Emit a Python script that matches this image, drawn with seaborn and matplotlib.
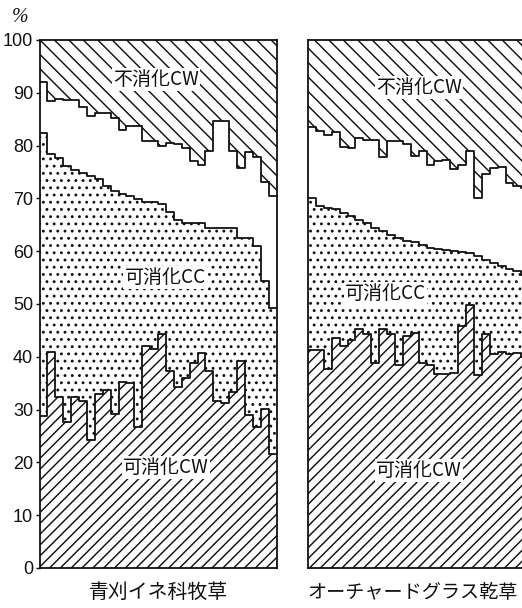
import matplotlib
matplotlib.use("Agg")
import matplotlib.pyplot as plt
import seaborn as sns

# two forages, one bar per sample (sorted), values in % of dry matter
panel_names = ["青刈イネ科牧草", "オーチャードグラス乾草"]
layer_names = ["不消化CW", "可消化CC", "可消化CW"]
y_ticks = [0, 10, 20, 30, 40, 50, 60, 70, 80, 90, 100]

# upper edge of digestible cell wall (bottom layer)
grass_dcw = [28.8, 41.0, 32.3, 27.7, 32.3, 31.6, 24.3, 33.0, 33.8, 29.2,
             35.2, 35.0, 26.7, 42.1, 41.5, 44.3, 37.3, 34.2, 36.0, 38.9,
             40.8, 37.3, 31.6, 31.3, 33.3, 39.2, 28.9, 26.7, 30.2, 21.6]
# upper edge of digestible cell contents
grass_cc = [82.3, 78.5, 77.7, 76.1, 75.3, 74.8, 74.2, 73.6, 72.3, 71.4,
            70.8, 70.4, 69.9, 69.4, 69.4, 69.0, 67.5, 66.0, 65.3, 65.3,
            65.3, 64.3, 64.3, 64.3, 64.3, 62.5, 62.5, 61.0, 54.3, 49.3]
# lower edge of indigestible cell wall (top layer)
grass_idcw = [92.0, 88.4, 88.8, 88.7, 88.7, 87.4, 85.7, 86.2, 86.2, 85.2,
              83.0, 83.8, 83.8, 80.8, 80.8, 80.0, 80.5, 80.3, 79.5, 77.0,
              76.4, 79.0, 84.6, 84.6, 79.0, 75.7, 78.7, 77.8, 73.2, 70.4]

orchard_dcw = [41.3, 41.3, 37.7, 43.5, 42.1, 43.2, 45.2, 44.3, 38.9, 45.2,
               44.3, 38.5, 44.0, 44.6, 38.9, 38.5, 36.7, 36.8, 37.0, 45.8,
               49.8, 36.6, 44.3, 40.5, 41.0, 40.5, 40.8, 40.0, 41.0, 39.5]
orchard_cc = [70.1, 68.5, 68.2, 67.9, 67.2, 66.6, 66.0, 65.3, 64.4, 63.8,
              63.1, 62.5, 62.0, 61.8, 61.2, 60.6, 60.5, 60.3, 60.0, 59.9,
              59.7, 59.0, 58.4, 57.8, 57.2, 56.7, 56.2, 55.5, 54.8, 54.0]
orchard_idcw = [83.6, 82.8, 82.0, 82.6, 79.8, 79.5, 81.5, 81.1, 81.1, 77.9,
                80.8, 80.8, 80.3, 78.1, 78.9, 76.4, 77.0, 77.3, 75.6, 76.4,
                79.0, 70.1, 74.6, 75.7, 76.0, 72.9, 72.3, 72.0, 71.5, 71.0]

DPI = 130
sns.set_theme(style="white")
plt.rcParams["font.family"] = ["Noto Sans CJK JP", "DejaVu Sans"]
plt.rcParams["hatch.linewidth"] = 0.8
plt.rcParams["hatch.color"] = "black"

JP = ["Noto Sans CJK JP", "DejaVu Sans"]
INK = "#111111"


def draw_panel(ax, dcw, cc, idcw, label_pos):
    n = len(dcw)
    x = list(range(n + 1))
    ext = lambda v: list(v) + [v[-1]]
    zeros = [0] * (n + 1)
    tops = [100] * (n + 1)

    # hatched / dotted layers
    ax.fill_between(x, zeros, ext(dcw), step="post", facecolor="white",
                    edgecolor=INK, hatch="////", linewidth=0, zorder=1)
    ax.fill_between(x, ext(dcw), ext(cc), step="post", facecolor="white",
                    edgecolor=INK, hatch="...", linewidth=0, zorder=1)
    ax.fill_between(x, ext(idcw), tops, step="post", facecolor="white",
                    edgecolor=INK, hatch="\\\\\\", linewidth=0, zorder=1)

    # step outlines of each boundary
    for edge in (dcw, cc, idcw):
        sns.lineplot(x=x, y=ext(edge), drawstyle="steps-post", color=INK,
                     linewidth=1.0, estimator=None, sort=False, ax=ax,
                     zorder=3)

    for name, (px, py) in zip(layer_names, label_pos):
        ax.text(px, py, name, ha="center", va="center", fontsize=10.5,
                family=JP, color=INK, zorder=4,
                bbox=dict(facecolor="white", edgecolor="none", pad=0.6))

    ax.set_xlim(0, n)
    ax.set_ylim(0, 100)
    ax.set_xticks([])
    for s in ax.spines.values():
        s.set_color(INK)
        s.set_linewidth(1.0)
        s.set_visible(True)
    ax.set_xlabel("")
    ax.set_ylabel("")


fig = plt.figure(figsize=(522 / DPI, 608 / DPI), dpi=DPI)
ax1 = fig.add_axes([39.5 / 522, 40 / 608, 237 / 522, 528 / 608])
ax2 = fig.add_axes([308 / 522, 40 / 608, 237 / 522, 528 / 608])

draw_panel(ax1, grass_dcw, grass_cc, grass_idcw,
           [(14.7, 92.5), (15.9, 55.0), (16.0, 19.0)])
draw_panel(ax2, orchard_dcw, orchard_cc, orchard_idcw,
           [(14.0, 91.0), (9.8, 52.0), (14.0, 18.5)])

ax1.set_yticks(y_ticks)
ax1.set_yticklabels([str(t) for t in y_ticks], family="Liberation Sans",
                    fontsize=10, color=INK)
ax1.tick_params(axis="y", length=2, width=0.8, pad=1.5, color=INK, left=True)
ax2.set_yticks([])

ax1.text(0.5, -0.046, panel_names[0], transform=ax1.transAxes, ha="center",
         va="center", fontsize=11, family=JP, color=INK)
ax2.text(0.44, -0.046, panel_names[1], transform=ax2.transAxes, ha="center",
         va="center", fontsize=10.6, family=JP, color=INK)

fig.text(20 / 522, 1 - 18 / 608, "%", ha="center", va="center", fontsize=11,
         family="Liberation Serif", style="italic", color=INK)

fig.savefig("out.png", dpi=DPI, facecolor="white")
